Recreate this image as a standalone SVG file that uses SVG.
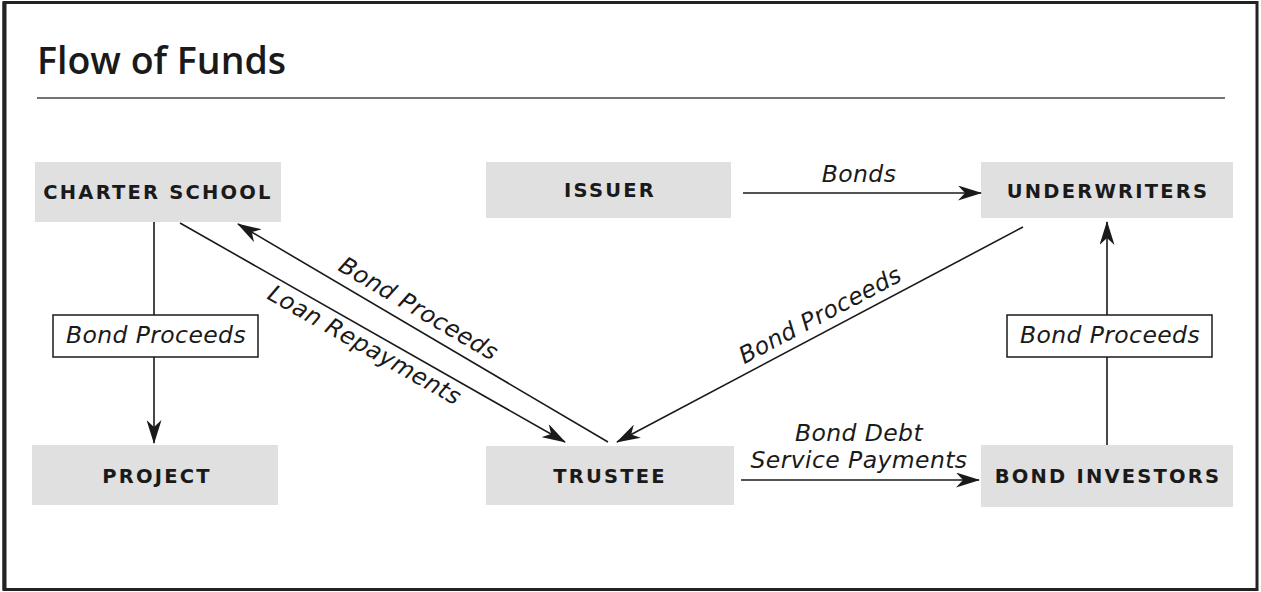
<svg xmlns="http://www.w3.org/2000/svg" width="1261" height="592" viewBox="0 0 1261 592">
<style>
.node{fill:#e0e0e0;}
.nl{font-family:"DejaVu Sans",sans-serif;font-weight:bold;font-size:19.5px;letter-spacing:2.2px;fill:#1a1a1a;text-anchor:middle;}
.cl{font-family:"DejaVu Sans",sans-serif;font-style:oblique;font-size:23.5px;letter-spacing:0.4px;fill:#1a1a1a;text-anchor:middle;}
.ln{stroke:#1a1a1a;stroke-width:1.6;fill:none;marker-end:url(#ah);}
.lb{fill:#fff;stroke:#1a1a1a;stroke-width:1.5;}
</style>
<defs>
<marker id="ah" viewBox="0 0 24 15" refX="23" refY="7.5" markerWidth="24" markerHeight="15" markerUnits="userSpaceOnUse" orient="auto">
<path d="M0,0 L24,7.5 L0,15 L7,7.5 z" fill="#1a1a1a"/>
</marker>
</defs>
<rect x="0" y="0" width="1261" height="592" fill="#fff"/>
<rect x="4" y="2.5" width="1253" height="587" fill="none" stroke="#222" stroke-width="3"/>
<line x1="4.5" y1="2" x2="4.5" y2="590" stroke="#222" stroke-width="4"/>
<text x="37" y="74" font-family="Open Sans, sans-serif" font-weight="600" font-size="37.5" fill="#1a1a1a">Flow of Funds</text>
<line x1="37" y1="98" x2="1225" y2="98" stroke="#444" stroke-width="1.5"/>

<g id="charter-school"><rect class="node" x="35" y="162" width="246" height="60"/><text class="nl" x="158" y="199">CHARTER SCHOOL</text></g>
<g id="issuer"><rect class="node" x="486" y="162" width="245" height="56"/><text class="nl" x="610" y="197">ISSUER</text></g>
<g id="underwriters"><rect class="node" x="981" y="162" width="252" height="56"/><text class="nl" x="1108" y="198">UNDERWRITERS</text></g>
<g id="project"><rect class="node" x="32" y="445" width="246" height="60"/><text class="nl" x="157" y="483">PROJECT</text></g>
<g id="trustee"><rect class="node" x="486" y="446" width="248" height="59"/><text class="nl" x="610" y="483">TRUSTEE</text></g>
<g id="bond-investors"><rect class="node" x="981" y="445" width="252" height="62"/><text class="nl" x="1108" y="483">BOND INVESTORS</text></g>

<g id="connectors">
<line class="ln" x1="154" y1="222" x2="154" y2="443"/>
<rect class="lb" x="53" y="315" width="205" height="42"/>
<text class="cl" x="156" y="343">Bond Proceeds</text>

<line class="ln" x1="743" y1="193" x2="981" y2="193"/>
<text class="cl" x="859" y="182">Bonds</text>

<line class="ln" x1="1023" y1="227" x2="617" y2="442"/>
<text class="cl" transform="translate(828,330) rotate(-27.9)" x="0" y="-9">Bond Proceeds</text>

<line class="ln" x1="1107" y1="445" x2="1107" y2="222"/>
<rect class="lb" x="1007" y="315" width="205" height="42"/>
<text class="cl" x="1110" y="343">Bond Proceeds</text>

<line class="ln" x1="741" y1="480" x2="979" y2="480"/>
<text class="cl" x="859" y="441" font-size="22.5">Bond Debt</text>
<text class="cl" x="859" y="468" font-size="22.5">Service Payments</text>

<line class="ln" x1="180" y1="223" x2="565" y2="442"/>
<text class="cl" transform="translate(372,332) rotate(29.6)" x="0" y="23">Loan Repayments</text>

<line class="ln" x1="608" y1="442" x2="238" y2="224"/>
<text class="cl" transform="translate(409,325) rotate(30.5)" x="0" y="-11">Bond Proceeds</text>
</g>
</svg>
